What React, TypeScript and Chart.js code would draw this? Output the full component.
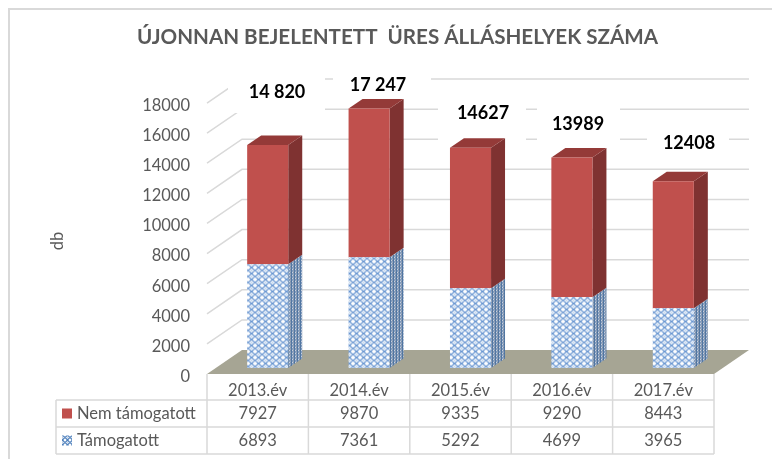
import React, { useEffect, useRef } from "react";
import { Chart, registerables } from "chart.js";

Chart.register(...registerables);

const categories = ["2013.év", "2014.év", "2015.év", "2016.év", "2017.év"];
const nemTamogatott = [7927, 9870, 9335, 9290, 8443];
const tamogatott = [6893, 7361, 5292, 4699, 3965];
const totalLabels = ["14 820", "17 247", "14627", "13989", "12408"];
const seriesNames = ["Nem támogatott", "Támogatott"];
const titleText = "ÚJONNAN BEJELENTETT  ÜRES ÁLLÁSHELYEK SZÁMA";

const FONT = "Lato, Carlito, 'Open Sans', sans-serif";
const TEXT = "#595959";
const GRID = "#d9d9d9";
const SCENE_SHIFT = -2.5; // floor and walls sit slightly above the axis labels

// label placement: centre x, centre y, and the white plate behind each label
const labelBoxes = [
  { x: 277, y: 92, l: 228, r: 325, t: 70, b: 113 },
  { x: 378, y: 85, l: 333, r: 431, t: 70, b: 92 },
  { x: 483, y: 113, l: 438, r: 526, t: 95, b: 142 },
  { x: 578, y: 124, l: 537, r: 620, t: 100, b: 146 },
  { x: 689, y: 143, l: 647, r: 729, t: 125, b: 158 },
];

function makeLattice(line: string, bg: string, w: number, h: number) {
  const c = document.createElement("canvas");
  c.width = w;
  c.height = h;
  const x = c.getContext("2d")!;
  x.fillStyle = bg;
  x.fillRect(0, 0, w, h);
  x.strokeStyle = line;
  x.lineWidth = 1.2;
  x.beginPath();
  x.moveTo(0, h / 2);
  x.lineTo(w / 2, 0);
  x.lineTo(w, h / 2);
  x.lineTo(w / 2, h);
  x.closePath();
  x.stroke();
  x.fillStyle = line;
  x.globalAlpha = 0.35;
  x.fillRect(w / 2 - 1, h / 2 - 1, 2, 2);
  return c;
}

function makeSpeckle() {
  const cells = ["#3e6aa3", "#a9b4c4", "#5d7ea8", "#d2d8e2", "#8a9ab0", "#47709f", "#c3cbd8", "#6b86aa", "#50749f"];
  const c = document.createElement("canvas");
  c.width = 3;
  c.height = 3;
  const x = c.getContext("2d")!;
  cells.forEach((col, i) => {
    x.fillStyle = col;
    x.fillRect(i % 3, Math.floor(i / 3), 1, 1);
  });
  return c;
}

const scene3d = {
  id: "scene3d",
  afterLayout(chart: any) {
    if (chart.titleBlock) {
      chart.titleBlock.left += 16.5;
      chart.titleBlock.right += 16.5;
    }
  },
  beforeDatasetsDraw(chart: any) {
    const { ctx, chartArea: a, scales } = chart;
    const y = scales.y;
    const depthX = 35;
    const depthY = -24;
    const floorY = a.bottom + SCENE_SHIFT;
    ctx.save();
    ctx.strokeStyle = GRID;
    ctx.lineWidth = 1.5;
    for (const v of y.ticks.map((t: any) => t.value)) {
      if (v === 0) continue;
      const py = y.getPixelForValue(v) + SCENE_SHIFT;
      ctx.beginPath();
      ctx.moveTo(a.left, py);
      ctx.lineTo(a.left + depthX, py + depthY);
      ctx.lineTo(a.right + depthX, py + depthY);
      ctx.stroke();
    }
    ctx.fillStyle = "#a6a594";
    ctx.beginPath();
    ctx.moveTo(a.left, floorY);
    ctx.lineTo(a.right, floorY);
    ctx.lineTo(a.right + depthX, floorY + depthY);
    ctx.lineTo(a.left + depthX, floorY + depthY);
    ctx.closePath();
    ctx.fill();

    ctx.fillStyle = "#ffffff";
    for (const b of labelBoxes) ctx.fillRect(b.l, b.t, b.r - b.l, b.b - b.t);
    ctx.restore();

    ctx.save();
    ctx.translate(10, -6 + SCENE_SHIFT);
    const sideX = 14;
    const sideY = -9.5;
    const sidePattern = ctx.createPattern(makeSpeckle(), "repeat");
    chart.data.datasets.forEach((ds: any, i: number) => {
      chart.getDatasetMeta(i).data.forEach((bar: any) => {
        const right = bar.x + bar.width / 2;
        const left = bar.x - bar.width / 2;
        ctx.fillStyle = i === 0 ? sidePattern : "#7f3231";
        ctx.beginPath();
        ctx.moveTo(right, bar.base);
        ctx.lineTo(right + sideX, bar.base + sideY);
        ctx.lineTo(right + sideX, bar.y + sideY);
        ctx.lineTo(right, bar.y);
        ctx.closePath();
        ctx.fill();
        if (i === chart.data.datasets.length - 1) {
          ctx.fillStyle = "#943a38";
          ctx.beginPath();
          ctx.moveTo(left, bar.y);
          ctx.lineTo(right, bar.y);
          ctx.lineTo(right + sideX, bar.y + sideY);
          ctx.lineTo(left + sideX, bar.y + sideY);
          ctx.closePath();
          ctx.fill();
        }
      });
    });
    // stays translated while the library draws the bars
  },
  afterDatasetsDraw(chart: any) {
    const { ctx, chartArea: a, scales } = chart;
    ctx.restore();
    ctx.save();

    // totals
    ctx.fillStyle = "#000000";
    ctx.font = `bold 18px ${FONT}`;
    ctx.textAlign = "center";
    ctx.textBaseline = "middle";
    totalLabels.forEach((t, i) => ctx.fillText(t, labelBoxes[i].x, labelBoxes[i].y));

    // data table
    const tableLeft = 56;
    const floorY = a.bottom + SCENE_SHIFT;
    const rows = [floorY + 26, floorY + 53, floorY + 80];
    const step = (a.right - a.left) / categories.length;
    ctx.strokeStyle = GRID;
    ctx.lineWidth = 1.5;
    for (const r of rows) {
      ctx.beginPath();
      ctx.moveTo(tableLeft, r);
      ctx.lineTo(a.right, r);
      ctx.stroke();
    }
    for (let i = 0; i <= categories.length; i++) {
      const x = a.left + i * step;
      ctx.beginPath();
      ctx.moveTo(x, floorY);
      ctx.lineTo(x, rows[2]);
      ctx.stroke();
    }
    ctx.beginPath();
    ctx.moveTo(tableLeft, rows[0]);
    ctx.lineTo(tableLeft, rows[2]);
    ctx.stroke();

    ctx.font = `16.5px ${FONT}`;
    ctx.fillStyle = TEXT;
    const cols = [nemTamogatott, tamogatott];
    cols.forEach((vals, r) => {
      const cy = (rows[r] + rows[r + 1]) / 2;
      vals.forEach((v, i) => {
        ctx.fillText(String(v), scales.x.getPixelForValue(i), cy);
      });
      ctx.textAlign = "left";
      ctx.fillText(seriesNames[r], 77, cy);
      ctx.textAlign = "center";
    });
    ctx.fillStyle = "#c0504d";
    ctx.fillRect(62, (rows[0] + rows[1]) / 2 - 5, 10, 10);
    const keyPattern = ctx.createPattern(makeLattice("#4f81bd", "#ffffff", 5, 5), "repeat");
    ctx.fillStyle = keyPattern;
    ctx.fillRect(62, (rows[1] + rows[2]) / 2 - 5, 10, 10);

    // chart frame
    ctx.strokeStyle = GRID;
    ctx.lineWidth = 2;
    ctx.beginPath();
    ctx.moveTo(9, 459);
    ctx.lineTo(9, 9);
    ctx.lineTo(772, 9);
    ctx.stroke();
    ctx.restore();
  },
};

export default function App() {
  const ref = useRef<HTMLCanvasElement>(null);
  useEffect(() => {
    document.body.style.margin = "0";
    const ctx = ref.current!.getContext("2d")!;
    const pattern = ctx.createPattern(makeLattice("#6a97d2", "#ffffff", 7, 6), "repeat")!;
    const chart = new Chart(ref.current!, {
      type: "bar",
      plugins: [scene3d],
      data: {
        labels: categories,
        datasets: [
          {
            label: seriesNames[1],
            data: tamogatott,
            backgroundColor: pattern as any,
            borderWidth: 0,
            barPercentage: 0.405,
            categoryPercentage: 1,
          },
          {
            label: seriesNames[0],
            data: nemTamogatott,
            backgroundColor: "#c0504d",
            borderWidth: 0,
            barPercentage: 0.405,
            categoryPercentage: 1,
          },
        ],
      },
      options: {
        animation: false,
        responsive: false,
        layout: { padding: { left: 48, right: 58, top: 0, bottom: 0 } },
        plugins: {
          legend: { display: false },
          tooltip: { enabled: false },
          title: {
            display: true,
            text: titleText,
            color: TEXT,
            font: { family: FONT, size: 20.6, weight: "bold" },
            padding: { top: 24.6, bottom: 56.2 },
          },
        },
        scales: {
          x: {
            stacked: true,
            grid: { display: false },
            border: { display: false },
            ticks: { color: TEXT, font: { family: FONT, size: 16.5 }, padding: -3.5, maxRotation: 0 },
            afterFit: (s: any) => {
              s.height = 82.5;
            },
          },
          y: {
            stacked: true,
            min: 0,
            max: 18000,
            grid: { display: false, drawTicks: false },
            border: { display: false },
            ticks: {
              stepSize: 2000,
              color: TEXT,
              font: { family: FONT, size: 16.5 },
              padding: 17,
              callback: (v: any) => String(v),
            },
            title: {
              display: true,
              text: "db",
              color: TEXT,
              font: { family: FONT, size: 16.5 },
              padding: 0,
            },
            afterFit: (s: any) => {
              s.width = 159;
            },
          },
        },
      },
    });
    return () => chart.destroy();
  }, []);
  return <canvas ref={ref} width={772} height={459} style={{ display: "block" }} />;
}
